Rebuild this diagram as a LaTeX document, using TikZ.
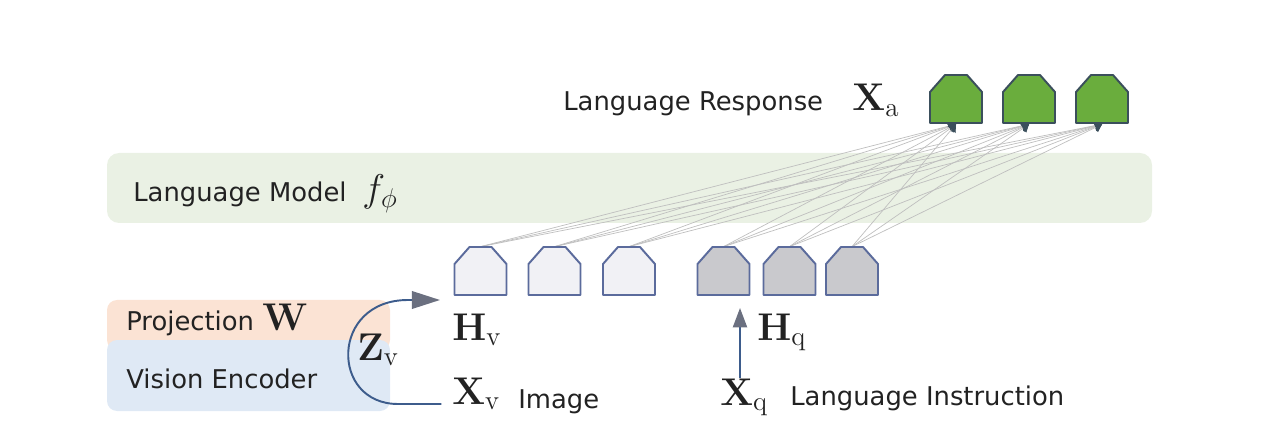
\documentclass[tikz,border=0pt]{standalone}
\usepackage{fix-cm}
\usepackage{amsmath}
\usepackage[no-math]{fontspec}
\setmainfont{DejaVu Sans}
\usetikzlibrary{arrows.meta,calc}
\definecolor{lmband}{HTML}{EAF1E4}
\definecolor{projcol}{HTML}{FBE3D4}
\definecolor{viscol}{HTML}{DFE9F5}
\definecolor{outfill}{HTML}{6AAD3D}
\definecolor{outdraw}{HTML}{3B4F5C}
\definecolor{inlight}{HTML}{F1F1F5}
\definecolor{indark}{HTML}{C9C9CD}
\definecolor{indraw}{HTML}{5B6B9C}
\definecolor{arrblue}{HTML}{3D5C8C}
\definecolor{arrgray}{HTML}{6B7080}
\definecolor{txt}{HTML}{222222}
\newcommand\tokn[4]{%
  \node[tokanchor] (#1) at (#2,#3) {};
  \draw[#4] ({#2-26},{#3+24}) -- ({#2-26},{#3-7}) -- ({#2-11},{#3-24}) -- ({#2+11},{#3-24}) -- ({#2+26},{#3-7}) -- ({#2+26},{#3+24}) -- cycle;
}
\begin{document}
\begin{tikzpicture}[x=0.02cm,y=-0.02cm,
  tokanchor/.style={inner sep=0pt, minimum width=52*0.02cm, minimum height=48*0.02cm, draw=none},
  outtok/.style={fill=outfill, draw=outdraw, line width=1.1pt, line join=round},
  inltok/.style={fill=inlight, draw=indraw, line width=1.1pt, line join=round},
  indtok/.style={fill=indark, draw=indraw, line width=1.1pt, line join=round},
  band/.style={fill=lmband, draw=none, rounded corners=0.24cm},
  lbl/.style={anchor=base west, inner sep=0pt, text=txt, font=\fontsize{14.7}{17}\selectfont},
  mth/.style={anchor=base west, inner sep=0pt, text=txt, font=\fontsize{22}{26}\selectfont},
  conn/.style={draw=black!25, line width=0.4pt, -{Triangle[length=4pt,width=6pt,color=outdraw]}},
  bigarrow/.style={draw=arrblue, line width=1.1pt, -{Triangle[length=16pt,width=10pt,color=arrgray]}},
]
\useasboundingbox (0,0) rectangle (1268,442);
% language model band
\node[band, minimum width=1045*0.02cm, minimum height=70*0.02cm] (lm) at (629.5,188) {};
\node[lbl] (lmtext) at (133,202) {Language Model};
\node[mth] (fphi) at (362,202) {$f_{\phi}$};
% projection / vision encoder
\node[fill=projcol, draw=none, rounded corners=0.2cm, minimum width=283*0.02cm, minimum height=50*0.02cm] (proj) at (248.5,325) {};
\node[fill=viscol, draw=none, rounded corners=0.2cm, minimum width=283*0.02cm, minimum height=71*0.02cm] (vis) at (248.5,375.5) {};
\node[lbl] (projtext) at (126,331) {Projection};
\node[mth] (wtext) at (262,331) {$\mathbf{W}$};
\node[lbl] (vistext) at (126,388) {Vision Encoder};
% token anchors
\node[tokanchor] (i1) at (480.5,271) {};
\node[tokanchor] (i2) at (554.5,271) {};
\node[tokanchor] (i3) at (629,271) {};
\node[tokanchor] (i4) at (723.5,271) {};
\node[tokanchor] (i5) at (789.5,271) {};
\node[tokanchor] (i6) at (852,271) {};
\node[tokanchor] (o1) at (956,99) {};
\node[tokanchor] (o2) at (1029,99) {};
\node[tokanchor] (o3) at (1102,99) {};
% connections
\foreach \i in {i1,i2,i3,i4,i5,i6}
  \foreach \o in {o1,o2,o3}
    \draw[conn] (\i.north) -- ([yshift=-0.5pt]\o.south);
% tokens
\tokn{i1}{480.5}{271}{inltok}
\tokn{i2}{554.5}{271}{inltok}
\tokn{i3}{629}{271}{inltok}
\tokn{i4}{723.5}{271}{indtok}
\tokn{i5}{789.5}{271}{indtok}
\tokn{i6}{852}{271}{indtok}
\tokn{o1}{956}{99}{outtok}
\tokn{o2}{1029}{99}{outtok}
\tokn{o3}{1102}{99}{outtok}
% response label
\node[lbl] (resp) at (563,111) {Language Response};
\node[mth] (xa) at (852,111) {$\mathbf{X}_{\mathrm{a}}$};
% visual branch
\node[mth] (hv) at (452,340) {$\mathbf{H}_{\mathrm{v}}$};
\node[mth] (xv) at (452,404) {$\mathbf{X}_{\mathrm{v}}$};
\node[lbl] (img) at (518,408) {Image};
\node[mth] (zv) at (357,360) {$\mathbf{Z}_{\mathrm{v}}$};
\coordinate (zvtip) at (440,300);
\draw[bigarrow] ([xshift=-6pt]xv.base west) -- (398,404) .. controls (330,404) and (330,300) .. (408,300) -- (zvtip);
% language branch
\node[mth] (hq) at (757,340) {$\mathbf{H}_{\mathrm{q}}$};
\node[mth] (xq) at (720,405) {$\mathbf{X}_{\mathrm{q}}$};
\node[lbl] (instr) at (790,405) {Language Instruction};
\coordinate (hqtip) at (740,308);
\coordinate (hqstart) at (740,378);
\draw[bigarrow, -{Triangle[length=11pt,width=8pt,color=arrgray]}] (hqstart) -- (hqtip);
\end{tikzpicture}
\end{document}
